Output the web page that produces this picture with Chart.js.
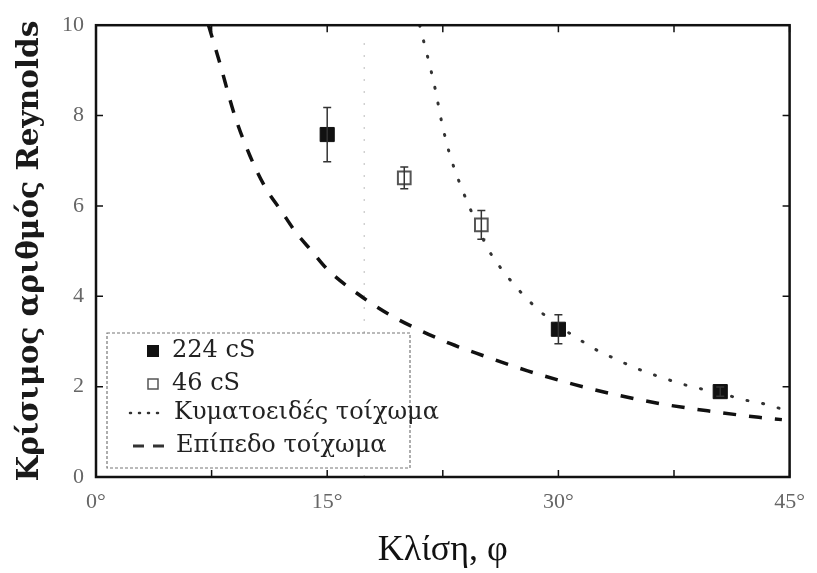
<!DOCTYPE html>
<html>
<head>
<meta charset="utf-8">
<script src="https://cdn.jsdelivr.net/npm/chart.js@4.4.1/dist/chart.umd.min.js"></script>
<style>
  html, body { margin: 0; padding: 0; background: #fff; }
  #wrap { width: 817px; height: 573px; position: relative; }
</style>
</head>
<body>
<div id="wrap"><canvas id="chart"></canvas></div>
<script>
// 224 cS measurements (filled squares)
const thickX = [15, 30, 40.5];
const thickY = [7.58, 3.27, 1.89];
const thickErr = [0.6, 0.32, 0.1];

// 46 cS measurements (open squares)
const thinX = [20, 25];
const thinY = [6.62, 5.58];
const thinErr = [0.24, 0.32];

// Κυματοειδές τοίχωμα (dotted curve)
const wavyX = [21.0, 22.0, 22.4, 22.9, 23.6, 24.2, 25.4, 26.1, 26.9, 27.7, 28.7, 30.0, 31.7, 32.7, 33.8, 34.8, 35.8, 36.9, 37.9, 38.9, 40.5, 42.0, 43.0, 43.9, 44.6];
const wavyY = [10.0, 8.6, 7.9, 7.2, 6.5, 6.0, 5.07, 4.7, 4.35, 4.04, 3.7, 3.35, 2.97, 2.77, 2.6, 2.44, 2.31, 2.18, 2.07, 1.98, 1.86, 1.71, 1.65, 1.56, 1.5];

// Επίπεδο τοίχωμα (dashed curve)
const flatX = [7.3, 8, 9, 10, 11, 12, 13, 14, 15, 17, 19, 21, 23, 25, 28, 31, 34, 37, 40, 43, 44.5];
const flatY = [10.0, 9.2, 8.0, 7.1, 6.4, 5.9, 5.4, 5.0, 4.6, 4.05, 3.6, 3.25, 2.95, 2.7, 2.35, 2.05, 1.8, 1.6, 1.45, 1.32, 1.27];

// faint vertical guide
const guideX = [17.4, 17.4];
const guideY = [0, 9.7];

const xTicks = [0, 15, 30, 45];

const toPts = (xs, ys) => xs.map((x, i) => ({ x: x, y: ys[i] }));

const errorBars = {
  id: "errorBars",
  afterDatasetsDraw(chart) {
    const ctx = chart.ctx;
    const xs = chart.scales.x;
    const ys = chart.scales.y;
    const sets = [[thickX, thickY, thickErr], [thinX, thinY, thinErr]];
    ctx.save();
    ctx.strokeStyle = "#333";
    ctx.lineWidth = 1.5;
    sets.forEach(([xv, yv, ev]) => {
      xv.forEach((x, i) => {
        const px = xs.getPixelForValue(x);
        const top = ys.getPixelForValue(yv[i] + ev[i]);
        const bot = ys.getPixelForValue(yv[i] - ev[i]);
        ctx.beginPath();
        ctx.moveTo(px, top);
        ctx.lineTo(px, bot);
        ctx.moveTo(px - 4, top);
        ctx.lineTo(px + 4, top);
        ctx.moveTo(px - 4, bot);
        ctx.lineTo(px + 4, bot);
        ctx.stroke();
      });
    });
    ctx.restore();
  },
};

const frame = {
  id: "frame",
  afterDraw(chart) {
    const ctx = chart.ctx;
    const a = chart.chartArea;
    const xs = chart.scales.x;
    const ys = chart.scales.y;
    ctx.save();
    ctx.strokeStyle = "#111";
    ctx.lineWidth = 1.5;
    ctx.beginPath();
    xs.ticks.forEach((t) => {
      const px = xs.getPixelForValue(t.value);
      ctx.moveTo(px, a.bottom);
      ctx.lineTo(px, a.bottom - 7);
      ctx.moveTo(px, a.top);
      ctx.lineTo(px, a.top + 7);
    });
    ys.ticks.forEach((t) => {
      const py = ys.getPixelForValue(t.value);
      ctx.moveTo(a.left, py);
      ctx.lineTo(a.left + 7, py);
      ctx.moveTo(a.right, py);
      ctx.lineTo(a.right - 7, py);
    });
    ctx.stroke();
    ctx.lineWidth = 2.5;
    ctx.strokeRect(a.left, a.top, a.right - a.left, a.bottom - a.top);

    // legend box
    const bx = 107, by = 333, bw = 303, bh = 135;
    ctx.fillStyle = "#fff";
    ctx.fillRect(bx, by, bw, bh);
    ctx.strokeStyle = "#777";
    ctx.lineWidth = 1.2;
    ctx.setLineDash([3, 2]);
    ctx.strokeRect(bx, by, bw, bh);
    ctx.setLineDash([]);

    const ds = chart.data.datasets;
    const rows = [351, 384, 413, 446];
    ctx.font = "24px 'DejaVu Serif'";
    ctx.textBaseline = "middle";
    ctx.textAlign = "left";
    // filled square
    ctx.fillStyle = "#111";
    ctx.fillRect(147, rows[0] - 6, 12, 12);
    // open square
    ctx.strokeStyle = "#555";
    ctx.lineWidth = 1.5;
    ctx.strokeRect(148, rows[1] - 5, 10, 10);
    // dotted sample
    ctx.strokeStyle = "#333";
    ctx.lineWidth = 2.5;
    ctx.lineCap = "round";
    ctx.setLineDash([1, 8]);
    ctx.beginPath();
    ctx.moveTo(130, rows[2]);
    ctx.lineTo(164, rows[2]);
    ctx.stroke();
    // dashed sample
    ctx.lineCap = "butt";
    ctx.lineWidth = 3;
    ctx.setLineDash([11, 9]);
    ctx.beginPath();
    ctx.moveTo(133, rows[3]);
    ctx.lineTo(166, rows[3]);
    ctx.stroke();
    ctx.setLineDash([]);
    ctx.fillStyle = "#222";
    ctx.fillText(ds[0].label, 172, rows[0]);
    ctx.fillText(ds[1].label, 172, rows[1]);
    ctx.fillText(ds[2].label, 174, rows[2]);
    ctx.fillText(ds[3].label, 176, rows[3]);
    ctx.restore();
  },
};

new Chart(document.getElementById("chart"), {
  type: "scatter",
  data: {
    datasets: [
      {
        label: "224 cS",
        data: toPts(thickX, thickY),
        pointStyle: "rect",
        pointRadius: 10,
        backgroundColor: "#111",
        borderColor: "#111",
        borderWidth: 1,
        order: 0,
      },
      {
        label: "46 cS",
        data: toPts(thinX, thinY),
        pointStyle: "rect",
        pointRadius: 9,
        backgroundColor: "#fff",
        borderColor: "#555",
        borderWidth: 2,
        order: 1,
      },
      {
        label: "Κυματοειδές τοίχωμα",
        data: toPts(wavyX, wavyY),
        showLine: true,
        pointRadius: 0,
        borderColor: "#333",
        borderWidth: 3,
        borderDash: [1, 15],
        borderCapStyle: "round",
        cubicInterpolationMode: "monotone",
        order: 3,
      },
      {
        label: "Επίπεδο τοίχωμα",
        data: toPts(flatX, flatY),
        showLine: true,
        pointRadius: 0,
        borderColor: "#111",
        borderWidth: 3.5,
        borderDash: [13, 13],
        cubicInterpolationMode: "monotone",
        order: 3,
      },
      {
        label: "",
        data: toPts(guideX, guideY),
        showLine: true,
        pointRadius: 0,
        borderColor: "#bbb",
        borderWidth: 1,
        borderDash: [2, 10],
        order: 4,
      },
    ],
  },
  options: {
    responsive: true,
    maintainAspectRatio: false,
    animation: false,
    layout: { padding: { top: 22, right: 24, left: 0, bottom: 0 } },
    plugins: {
      legend: { display: false },
      tooltip: { enabled: false },
    },
    scales: {
      x: {
        type: "linear",
        min: 0,
        max: 45,
        afterFit: (s) => { s.height = 96; },
        grid: { display: false, drawTicks: false },
        border: { display: false },
        ticks: {
          stepSize: 7.5,
          autoSkip: false,
          maxRotation: 0,
          padding: 12,
          color: "#666",
          font: { family: "'Liberation Serif'", size: 22 },
          callback: (v) => (xTicks.includes(v) ? v + "°" : ""),
        },
        title: {
          display: true,
          text: "Κλίση, φ",
          color: "#111",
          font: { family: "'Liberation Serif'", size: 36 },
          padding: { top: 0, bottom: 1 },
        },
      },
      y: {
        type: "linear",
        min: 0,
        max: 10,
        afterFit: (s) => { s.width = 96; },
        grid: { display: false, drawTicks: false },
        border: { display: false },
        ticks: {
          stepSize: 2,
          padding: 12,
          color: "#666",
          font: { family: "'Liberation Serif'", size: 22 },
        },
        title: {
          display: true,
          text: "Κρίσιμος αριθμός Reynolds",
          color: "#1a1a1a",
          font: { family: "'DejaVu Serif'", size: 29.5, weight: "bold" },
          padding: { top: 13, bottom: 0 },
        },
      },
    },
  },
  plugins: [errorBars, frame],
});
</script>
</body>
</html>
